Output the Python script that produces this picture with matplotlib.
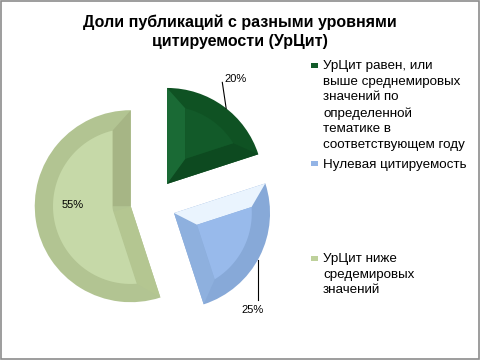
import numpy as np
import matplotlib
matplotlib.use("Agg")
import matplotlib.pyplot as plt
from matplotlib.patches import Rectangle, Polygon

plt.rcParams['font.family'] = ['Liberation Sans', 'DejaVu Sans']

title = "Доли публикаций с разными уровнями\nцитируемости (УрЦит)"
labels = ["УрЦит равен, или\nвыше среднемировых\nзначений по\nопределенной\nтематике в\nсоответствующем году",
          "Нулевая цитируемость",
          "УрЦит ниже\nсредемировых\nзначений"]
shares = [20, 25, 55]
colors = ["#135c2a", "#93b4e6", "#bed19b"]
# bevel shades: top face, outer band, first radial face, second radial face
bevel_colors = [["#125a29", "#0f5223", "#0d4a20", "#1a6a35"],
                ["#98baeb", "#87a9d8", "#8eb0de", "#eaf4fe"],
                ["#c6d9a8", "#b2c492", "#a6b585", "#b4c691"]]
explode = [0.24, 0.24, 0.24]
bevel = 0.19


def arc_pts(cx, cy, r, a, b, n=60):
    t = np.linspace(a, b, n)
    return np.column_stack([cx + r * np.cos(t), cy + r * np.sin(t)])


def bevel_faces(w, d):
    cx, cy = w.center
    r = w.r
    a1, a2 = np.deg2rad(w.theta1), np.deg2rad(w.theta2)
    half = (a2 - a1) / 2
    mid = (a1 + a2) / 2
    rho = r - d
    b1 = a1 + np.arcsin(d / rho)
    b2 = a2 - np.arcsin(d / rho)
    outer = arc_pts(cx, cy, rho, b1, b2)
    if half < np.pi / 2:
        k = d / np.sin(half)
        p = np.array([cx + k * np.cos(mid), cy + k * np.sin(mid)])
        top = np.vstack([p, outer])
        s1, s2 = p, p
    else:
        s1 = np.array([cx + d * np.cos(a1 + np.pi / 2), cy + d * np.sin(a1 + np.pi / 2)])
        s2 = np.array([cx + d * np.cos(a2 - np.pi / 2), cy + d * np.sin(a2 - np.pi / 2)])
        small = arc_pts(cx, cy, d, a2 - np.pi / 2, a1 + np.pi / 2, 30)
        top = np.vstack([s1, outer, small])
    c = np.array([cx, cy])
    e1 = np.array([cx + r * np.cos(a1), cy + r * np.sin(a1)])
    e2 = np.array([cx + r * np.cos(a2), cy + r * np.sin(a2)])
    face1 = np.vstack([c, e1, outer[0], s1])
    face2 = np.vstack([c, s2, outer[-1], e2])
    return top, face1, face2


fig = plt.figure(figsize=(4.8, 3.6), dpi=100)
fig.patches.append(Rectangle((0.002, 0.003), 0.995, 0.993, transform=fig.transFigure,
                             fill=False, edgecolor="#8c8c8c", linewidth=1.2))

ax = fig.add_axes([0.0073, 0.0206, 0.625, 0.8333])
wedges, _ = ax.pie(shares, colors=colors, explode=explode, startangle=90,
                   counterclock=False, radius=1.0)
ax.set_xlim(-1.5625, 1.5625)
ax.set_ylim(-1.5625, 1.5625)
ax.set_aspect('equal')
ax.axis('off')

for w, bc in zip(wedges, bevel_colors):
    w.set_facecolor(bc[1])
    top, f1, f2 = bevel_faces(w, bevel)
    ax.add_patch(Polygon(f1, closed=True, facecolor=bc[2], edgecolor='none'))
    ax.add_patch(Polygon(f2, closed=True, facecolor=bc[3], edgecolor='none'))
    ax.add_patch(Polygon(top, closed=True, facecolor=bc[0], edgecolor='none'))

# percent labels
for i, w in enumerate(wedges):
    mid = np.deg2rad((w.theta1 + w.theta2) / 2)
    cx, cy = w.center
    txt = f"{shares[i]}%"
    if i == 2:
        ax.text(cx + 0.6 * np.cos(mid - 0.17), cy + 0.6 * np.sin(mid - 0.17), txt,
                ha='center', va='center', fontsize=8)
    elif i == 0:
        a = mid - np.deg2rad(2)
        ex, ey = cx + np.cos(a), cy + np.sin(a)
        ax.plot([ex, ex - 0.04], [ey, ey + 0.27], color='black', lw=0.8)
        ax.text(ex + 0.1, ey + 0.31, txt, ha='center', va='center', fontsize=8)
    else:
        a = mid - np.deg2rad(2)
        ex, ey = cx + np.cos(a), cy + np.sin(a)
        ax.plot([ex, ex], [ey, ey - 0.42], color='black', lw=0.8)
        ax.text(ex - 0.06, ey - 0.53, txt, ha='center', va='center', fontsize=8)

fig.text(0.5, 0.911, title, ha='center', va='center', fontsize=11.5,
         fontweight='bold', linespacing=1.3)

# legend
leg_y = [0.833, 0.559, 0.297]
for lab, c, y in zip(labels, colors, leg_y):
    fig.patches.append(Rectangle((0.648, y - 0.021), 0.0146, 0.0139,
                                 transform=fig.transFigure, facecolor=c,
                                 edgecolor='none'))
    fig.text(0.673, y, lab, ha='left', va='top', fontsize=9.6,
             linespacing=1.4)

fig.savefig("out.png", dpi=100)
